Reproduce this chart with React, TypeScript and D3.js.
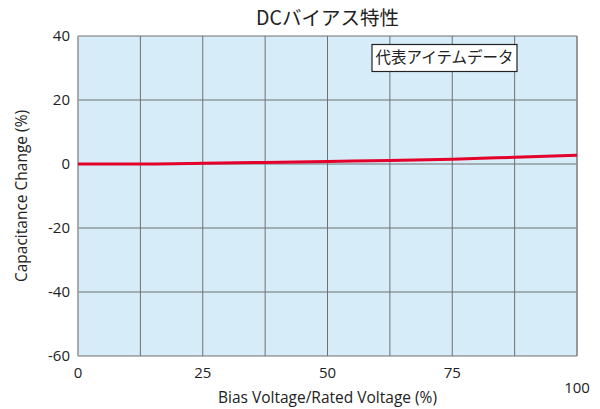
import React from "react";
import * as d3 from "d3";

const xValues = [0, 12.5, 25, 37.5, 50, 62.5, 75, 87.5, 100];
const yValues = [0, 0, 0.2, 0.5, 0.8, 1.1, 1.5, 2.1, 2.7];
const xTicks = [0, 25, 50, 75, 100];
const xGrid = [0, 12.5, 25, 37.5, 50, 62.5, 75, 87.5, 100];
const yTicks = [40, 20, 0, -20, -40, -60];
const title = "DCバイアス特性";
const legendLabel = "代表アイテムデータ";
const xTitle = "Bias Voltage/Rated Voltage (%)";
const yTitle = "Capacitance Change (%)";

const W = 600, H = 409;
const L = 78, R = 577, T = 36, B = 356;
const font = "'Open Sans', 'Noto Sans', sans-serif";
const jpFont = "'Noto Sans CJK JP', sans-serif";

export default function App() {
  const x = d3.scaleLinear().domain([0, 100]).range([L, R]);
  const y = d3.scaleLinear().domain([-60, 40]).range([B, T]);
  const line = d3.line<number>().x((_, i) => x(xValues[i])).y((d) => y(d)).curve(d3.curveMonotoneX);
  return (
    <svg width={W} height={H} style={{ position: "absolute", left: 0, top: 0 }}>
      <rect x={L} y={T} width={R - L} height={B - T} fill="#d6ecf8" />
      {xGrid.map((v) => (
        <line key={"gx" + v} x1={x(v)} x2={x(v)} y1={T} y2={B} stroke="#707070" strokeWidth={1} />
      ))}
      {yTicks.map((v) => (
        <line key={"gy" + v} x1={L} x2={R} y1={y(v)} y2={y(v)} stroke="#707070" strokeWidth={1} />
      ))}
      <line x1={L} x2={L} y1={T} y2={B} stroke="#a8a8a8" strokeWidth={1.5} />
      <line x1={R} x2={R} y1={T} y2={B} stroke="#909090" strokeWidth={1.5} />
      <path d={line(yValues) || ""} fill="none" stroke="#e4002b" strokeWidth={3} />
      {yTicks.map((v) => (
        <text key={"ty" + v} x={70} y={y(v)} dy="0.35em" textAnchor="end" fontFamily={font} fontSize={15} fill="#222">
          {v}
        </text>
      ))}
      {xTicks.map((v, i) => (
        <text key={"tx" + v} x={x(v)} y={i === xTicks.length - 1 ? 393 : 378} textAnchor="middle" fontFamily={font} fontSize={15} fill="#222">
          {v}
        </text>
      ))}
      <text x={(L + R) / 2} y={403} textAnchor="middle" fontFamily={font} fontSize={15.5} fill="#222">{xTitle}</text>
      <text transform={`translate(27,${(T + B) / 2}) rotate(-90)`} textAnchor="middle" fontFamily={font} fontSize={15.5} fill="#222">{yTitle}</text>
      <text x={(L + R) / 2} y={25} textAnchor="middle" fontFamily={jpFont} fontSize={19.5} fill="#222">{title}</text>
      <rect x={372} y={44.5} width={145} height={27} fill="#fff" stroke="#222" strokeWidth={1.2} />
      <text x={444.5} y={58} dy="0.35em" textAnchor="middle" fontFamily={jpFont} fontSize={15.5} fill="#222">{legendLabel}</text>
    </svg>
  );
}
